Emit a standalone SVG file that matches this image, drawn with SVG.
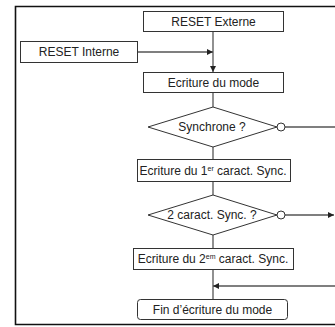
<svg xmlns="http://www.w3.org/2000/svg" width="335" height="327" viewBox="0 0 335 327">
  <style>
    .box { fill: #ffffff; stroke: #333333; stroke-width: 1; }
    .dec { fill: #ffffff; stroke: #333333; stroke-width: 1; }
    .frame { fill: none; stroke: #111111; stroke-width: 1.6; }
    .wire { fill: none; stroke: #555555; stroke-width: 1.3; }
    .neg { fill: #ffffff; stroke: #333333; stroke-width: 1; }
    text { font-family: "Liberation Sans", Arial, sans-serif; font-size: 12px; fill: #222222; text-anchor: middle; dominant-baseline: central; }
    .sup { font-size: 7px; }
  </style>
  <defs>
    <marker id="arrow" viewBox="0 0 10 10" refX="10" refY="5" markerWidth="6" markerHeight="6" markerUnits="userSpaceOnUse" orient="auto">
      <path d="M0,0 L10,5 L0,10 z" fill="#222222"/>
    </marker>
  </defs>

  <!-- outer frame, open on the right -->
  <path class="frame" d="M335,6.5 H15.5 V324.5 H335"/>

  <!-- connectors -->
  <g id="connectors">
    <line class="wire" x1="213" y1="31" x2="213" y2="72" marker-end="url(#arrow)"/>
    <line class="wire" x1="137" y1="52" x2="213" y2="52" marker-end="url(#arrow)"/>
    <line class="wire" x1="213" y1="92" x2="213" y2="107"/>
    <line class="wire" x1="213" y1="147" x2="213" y2="159"/>
    <line class="wire" x1="285" y1="127" x2="335" y2="127"/>
    <line class="wire" x1="213" y1="181" x2="213" y2="195"/>
    <line class="wire" x1="213" y1="235" x2="213" y2="248"/>
    <line class="wire" x1="285" y1="215" x2="334" y2="215" marker-end="url(#arrow)"/>
    <line class="wire" x1="213" y1="269" x2="213" y2="299"/>
    <line class="wire" x1="335" y1="286" x2="213" y2="286" marker-end="url(#arrow)"/>
  </g>

  <g id="reset-externe">
    <rect class="box" x="143.5" y="11.5" width="140" height="20"/>
    <text x="213.5" y="21.5">RESET Externe</text>
  </g>

  <g id="reset-interne">
    <rect class="box" x="20.5" y="41.5" width="117" height="21"/>
    <text x="79" y="52">RESET Interne</text>
  </g>

  <g id="ecriture-mode">
    <rect class="box" x="143.5" y="72.5" width="140" height="20"/>
    <text x="213.5" y="82.5">Ecriture du mode</text>
  </g>

  <g id="synchrone">
    <polygon class="dec" points="148,127 213,107 277,127 213,147"/>
    <circle class="neg" cx="281" cy="127" r="4"/>
    <text x="212" y="127">Synchrone ?</text>
  </g>

  <g id="ecriture-1">
    <rect class="box" x="137.5" y="159.5" width="153" height="22"/>
    <text x="213" y="170.5">Ecriture du 1<tspan class="sup" dy="-3">er</tspan><tspan dy="3"> caract. Sync.</tspan></text>
  </g>

  <g id="deux-caract">
    <polygon class="dec" points="148,215 213,195 277,215 213,235"/>
    <circle class="neg" cx="281" cy="215" r="4"/>
    <text x="212" y="215">2 caract. Sync. ?</text>
  </g>

  <g id="ecriture-2">
    <rect class="box" x="133.5" y="248.5" width="160" height="21"/>
    <text x="213" y="259">Ecriture du 2<tspan class="sup" dy="-3">em</tspan><tspan dy="3"> caract. Sync.</tspan></text>
  </g>

  <g id="fin-ecriture">
    <rect class="box" x="137.5" y="299.5" width="150" height="20" rx="3"/>
    <text x="212.5" y="309.5">Fin d’écriture du mode</text>
  </g>
</svg>
